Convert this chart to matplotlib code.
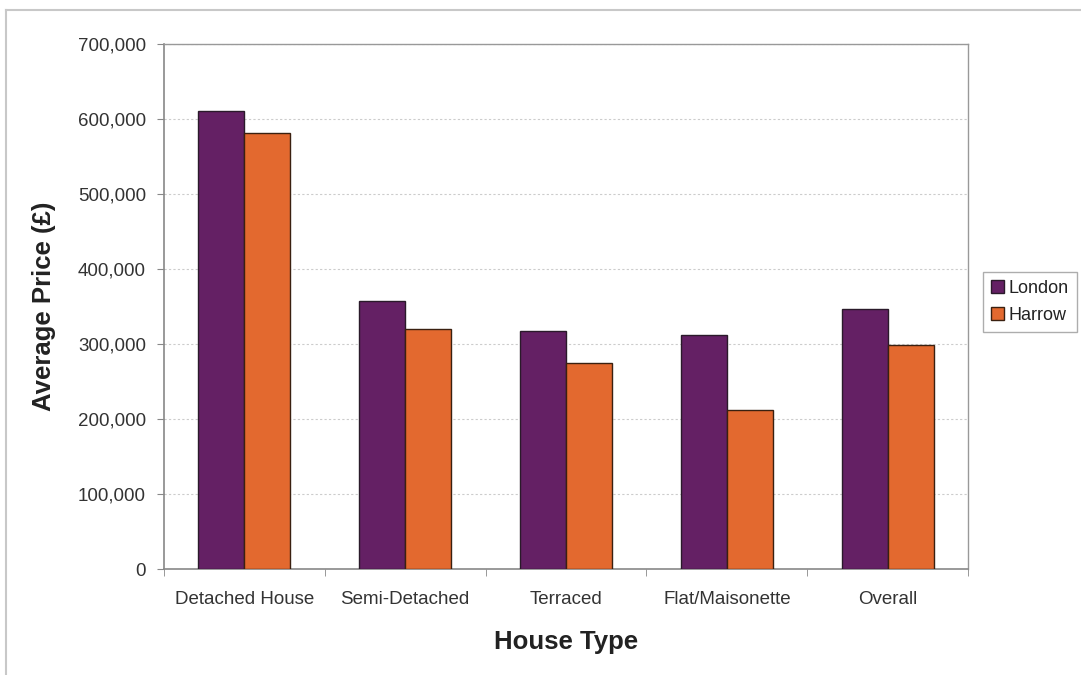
import numpy as np
import matplotlib
matplotlib.use("Agg")
import matplotlib.pyplot as plt
from matplotlib.lines import Line2D

# data
house_types = ["Detached House", "Semi-Detached", "Terraced", "Flat/Maisonette", "Overall"]
london = [611000, 358000, 318000, 312000, 347000]
harrow = [581000, 320000, 275000, 212000, 299000]
y_ticks = [0, 100000, 200000, 300000, 400000, 500000, 600000, 700000]

plt.rcParams['font.family'] = ['Liberation Sans', 'DejaVu Sans']

fig = plt.figure(figsize=(10.81, 6.75), dpi=100)
ax = fig.add_axes([0.1517, 0.157, 0.7438, 0.7778])

x = np.arange(len(house_types))
w = 0.286
ax.bar(x - w/2, london, w, color="#642064", edgecolor="#2a1a2a", linewidth=1, label="London", zorder=3)
ax.bar(x + w/2, harrow, w, color="#E3692F", edgecolor="#3a2010", linewidth=1, label="Harrow", zorder=3)

ax.set_xlim(-0.5, len(house_types) - 0.5)
ax.set_ylim(0, 700000)
ax.set_yticks(y_ticks)
ax.set_yticklabels([f"{v:,}" for v in y_ticks], fontsize=13.5, color="#333333")
ax.set_xticks(x)
ax.set_xticklabels(house_types, fontsize=13.5, color="#333333")
ax.set_xticks(np.arange(len(house_types) + 1) - 0.5, minor=True)
ax.tick_params(axis="x", which="major", length=0, pad=16)
ax.tick_params(axis="x", which="minor", length=5, color="#888888")
ax.tick_params(axis="y", length=5, color="#888888", pad=8)

ax.yaxis.grid(True, linestyle=(0, (2, 2)), color="#cccccc", linewidth=0.8, zorder=0)
for s in ["left", "bottom"]:
    ax.spines[s].set_color("#888888")
    ax.spines[s].set_linewidth(1.2)
for s in ["top", "right"]:
    ax.spines[s].set_color("#999999")
    ax.spines[s].set_linewidth(1.0)

ax.set_ylabel("Average Price (£)", fontsize=18.5, fontweight="bold", color="#222222", labelpad=16)
ax.set_xlabel("House Type", fontsize=18.5, fontweight="bold", color="#222222", labelpad=16)

leg = ax.legend(loc="upper left", bbox_to_anchor=(1.018, 0.566), fontsize=13, frameon=True,
                fancybox=False, edgecolor="#999999", handlelength=0.75, handleheight=0.75,
                handletextpad=0.25, borderpad=0.45, borderaxespad=0, labelspacing=0.55)
leg.get_frame().set_linewidth(1.0)
for t in leg.get_texts():
    t.set_color("#222222")

# outer chart border (top and left visible)
fig.add_artist(Line2D([6/1081, 1], [1 - 10/675, 1 - 10/675], color="#c8c8c8", linewidth=1.5, transform=fig.transFigure))
fig.add_artist(Line2D([6/1081, 6/1081], [0, 1 - 10/675], color="#c8c8c8", linewidth=1.5, transform=fig.transFigure))

fig.savefig("out.png", dpi=100)
